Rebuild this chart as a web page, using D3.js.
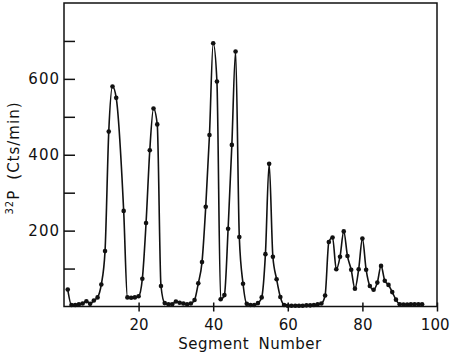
<!DOCTYPE html>
<html>
<head>
<meta charset="utf-8">
<script src="https://cdn.jsdelivr.net/npm/d3@7"></script>
<style>
  html, body { margin: 0; padding: 0; background: #fff; }
  svg { display: block; font-family: 'DejaVu Sans', sans-serif; }
</style>
</head>
<body>
<div id="chart"></div>
<script>
// segment 15 has no point in the original
const segments = [
  1, 2, 3, 4, 5, 6, 7, 8, 9, 10, 11, 12, 13, 14, 16, 17, 18, 19, 20,
  21, 22, 23, 24, 25, 26, 27, 28, 29, 30, 31, 32, 33, 34, 35, 36, 37, 38, 39, 40,
  41, 42, 43, 44, 45, 46, 47, 48, 49, 50, 51, 52, 53, 54, 55, 56, 57, 58, 59, 60,
  61, 62, 63, 64, 65, 66, 67, 68, 69, 70, 71, 72, 73, 74, 75, 76, 77, 78, 79, 80,
  81, 82, 83, 84, 85, 86, 87, 88, 89, 90, 91, 92, 93, 94, 95, 96
];
const counts = [
  45, 4, 4, 6, 8, 14, 7, 16, 24, 58, 146, 461, 580, 550, 252, 24, 23, 24, 27,
  73, 220, 412, 522, 480, 54, 9, 6, 6, 13, 10, 8, 6, 8, 17, 61, 117, 263, 452, 694,
  593, 19, 30, 205, 426, 672, 183, 60, 7, 4, 4, 9, 24, 138, 376, 131, 72, 25, 4, 2,
  2, 2, 2, 2, 3, 3, 4, 6, 8, 29, 170, 182, 98, 131, 198, 133, 97, 47, 98, 179,
  97, 54, 44, 63, 107, 68, 57, 38, 18, 6, 5, 5, 6, 6, 6, 6
];
const xTickValues = [20, 40, 60, 80, 100];
const yTickValues = [100, 200, 300, 400, 500, 600, 700];
const yTickLabels = [200, 400, 600];

const width = 450;
const height = 354;
const margin = { left: 64, right: 437, top: 3, bottom: 306.5 };

const data = segments.map((s, i) => ({ seg: s, cts: counts[i] }));

const svg = d3.select('#chart')
  .append('svg')
  .attr('width', width)
  .attr('height', height);

const x = d3.scaleLinear().domain([0, 100]).range([margin.left, margin.right]);
const y = d3.scaleLinear().domain([0, 800]).range([margin.bottom, margin.top]);

// frame
svg.append('rect')
  .attr('x', margin.left)
  .attr('y', margin.top)
  .attr('width', margin.right - margin.left)
  .attr('height', margin.bottom - margin.top)
  .attr('fill', 'none')
  .attr('stroke', '#111')
  .attr('stroke-width', 1.5);

const yAxis = svg.append('g')
  .attr('transform', `translate(${margin.left},0)`)
  .call(d3.axisLeft(y)
    .tickValues(yTickValues)
    .tickSize(-11)
    .tickPadding(4)
    .tickFormat(d => yTickLabels.includes(d) ? d : ''));

const xAxis = svg.append('g')
  .attr('transform', `translate(0,${margin.bottom})`)
  .call(d3.axisBottom(x)
    .tickValues(xTickValues)
    .tickSize(5)
    .tickPadding(8));

[xAxis, yAxis].forEach(g => {
  g.select('.domain').remove();
  g.selectAll('.tick line').attr('stroke', '#111').attr('stroke-width', 1.5);
  g.selectAll('.tick text')
    .attr('fill', '#111')
    .style('font-size', '15px')
    .style('font-family', "'DejaVu Sans', sans-serif");
});
// x ticks cross the axis line
xAxis.selectAll('.tick line').attr('y1', -4);
yAxis.selectAll('.tick text').style('letter-spacing', '1px');
// last label sits right at the edge; keep it inside
xAxis.selectAll('.tick text')
  .filter(d => d === 100)
  .attr('text-anchor', 'end')
  .attr('x', 12);

const line = d3.line()
  .x(d => x(d.seg))
  .y(d => y(d.cts))
  .curve(d3.curveMonotoneX);

svg.append('path')
  .datum(data)
  .attr('fill', 'none')
  .attr('stroke', '#111')
  .attr('stroke-width', 1.6)
  .attr('d', line);

svg.selectAll('.dot')
  .data(data)
  .enter()
  .append('circle')
  .attr('class', 'dot')
  .attr('cx', d => x(d.seg))
  .attr('cy', d => y(d.cts))
  .attr('r', 2.3)
  .attr('fill', '#111');

svg.append('text')
  .attr('x', 250)
  .attr('y', 349)
  .attr('text-anchor', 'middle')
  .style('font-size', '15px')
  .style('letter-spacing', '0.5px')
  .style('word-spacing', '4px')
  .attr('fill', '#111')
  .text('Segment Number');

const ylab = svg.append('text')
  .attr('transform', 'translate(19,158) rotate(-90)')
  .attr('text-anchor', 'middle')
  .style('font-size', '15px')
  .style('letter-spacing', '1px')
  .attr('fill', '#111');
ylab.append('tspan')
  .style('font-size', '10px')
  .attr('dy', -6)
  .text('32');
ylab.append('tspan')
  .attr('dy', 6)
  .text('P');
ylab.append('tspan')
  .attr('dx', 10)
  .text('(Cts/min)');
</script>
</body>
</html>
